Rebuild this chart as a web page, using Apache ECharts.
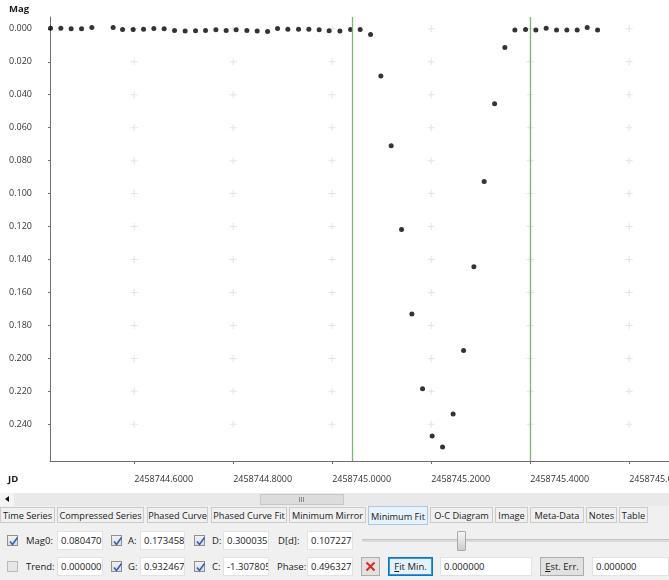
<!DOCTYPE html>
<html>
<head>
<meta charset="utf-8">
<script src="https://cdn.jsdelivr.net/npm/echarts@6/dist/echarts.min.js"></script>
<style>
  html, body { margin: 0; padding: 0; }
  body {
    width: 669px; height: 580px; overflow: hidden; position: relative;
    background: #f0f0f0;
    font-family: "Open Sans", "Noto Sans", sans-serif; font-size: 9.5px; color: #1a1a1a;
  }
  #chart { position: absolute; left: 0; top: 0; width: 800px; height: 493px; background: #fff; }
  .a { position: absolute; box-sizing: border-box; white-space: nowrap; }
  #hscroll { left: 0; top: 493px; width: 669px; height: 13px; background: #e9e9e9; }
  #hleft { left: 0; top: 493px; width: 14px; height: 13px; background: #f4f4f4; }
  #hleft:after { content: ""; position: absolute; left: 5px; top: 3px; border-style: solid;
    border-width: 3.5px 4px 3.5px 0; border-color: transparent #111 transparent transparent; }
  #hthumb { left: 260px; top: 494px; width: 84px; height: 11px; background: #dcdcdc; border: 1px solid #c8c8c8; }
  .grip { top: 497px; width: 1px; height: 5px; background: #8a8a8a; }
  .tab { top: 507px; height: 16px; line-height: 15px; text-align: center; background: #f0f0f0;
    border: 1px solid #cacaca; color: #1a1a1a; font-size: 9.2px; }
  .tab.sel { top: 506px; height: 19px; line-height: 19px; background: #e6f3fb; border-color: #a9c9de; }
  .lbl { line-height: 19px; height: 19px; }
  .tb { height: 19px; line-height: 17px; background: #fff; border: 1px solid #e2e2e2; padding-left: 3px; overflow: hidden; }
  .cb { width: 11px; height: 11px; border: 1px solid #8e8f8f; background: linear-gradient(#f2f2f2, #dcdcdc); }
  .cb svg { position: absolute; left: 0; top: 0; }
  .cb.off { background: #e6e6e6; border-color: #b9b9b9; }
  .btn { height: 19px; line-height: 17px; text-align: center; background: #e1e1e1; border: 1px solid #adadad; }
  .btn.def { background: #e5f1fb; border: 1px solid #0078d7; box-shadow: inset 0 0 0 1px #3b95dc; }
  #track { left: 362px; top: 539px; width: 307px; height: 3px; background: #dadada; border-top: 1px solid #c4c4c4; }
  #knob { left: 457px; top: 531px; width: 9px; height: 20px; background: linear-gradient(#f6f6f6, #cdcdcd);
    border: 1px solid #a9a9a9; border-radius: 1px; }
</style>
</head>
<body>
<div id="chart"></div>

<!-- horizontal scrollbar under the plot -->
<div id="hscroll" class="a"></div>
<div id="hleft" class="a"></div>
<div id="hthumb" class="a"></div>
<div class="a grip" style="left:299px"></div>
<div class="a grip" style="left:301px"></div>
<div class="a grip" style="left:303px"></div>

<!-- view tabs -->
<div id="tabs"></div>

<!-- fit parameter rows -->
<div class="a cb" style="left:7px;top:535px"><svg width="11" height="11"><path d="M2 5.5 L4.5 8.5 L9.5 1.5" fill="none" stroke="#2f62b8" stroke-width="1.6"/></svg></div>
<div class="a lbl" style="left:26px;top:531px">Mag0:</div>
<div class="a tb" style="left:57px;top:531px;width:46px">0.080470</div>
<div class="a cb" style="left:111px;top:535px"><svg width="11" height="11"><path d="M2 5.5 L4.5 8.5 L9.5 1.5" fill="none" stroke="#2f62b8" stroke-width="1.6"/></svg></div>
<div class="a lbl" style="left:128px;top:531px">A:</div>
<div class="a tb" style="left:140px;top:531px;width:45px">0.173458</div>
<div class="a cb" style="left:194px;top:535px"><svg width="11" height="11"><path d="M2 5.5 L4.5 8.5 L9.5 1.5" fill="none" stroke="#2f62b8" stroke-width="1.6"/></svg></div>
<div class="a lbl" style="left:212px;top:531px">D:</div>
<div class="a tb" style="left:223px;top:531px;width:46px">0.300035</div>
<div class="a lbl" style="left:278px;top:531px">D[d]:</div>
<div class="a tb" style="left:307px;top:531px;width:46px">0.107227</div>
<div id="track" class="a"></div>
<div id="knob" class="a"></div>

<div class="a cb off" style="left:7px;top:561px"></div>
<div class="a lbl" style="left:26px;top:557px">Trend:</div>
<div class="a tb" style="left:57px;top:557px;width:46px">0.000000</div>
<div class="a cb" style="left:111px;top:561px"><svg width="11" height="11"><path d="M2 5.5 L4.5 8.5 L9.5 1.5" fill="none" stroke="#2f62b8" stroke-width="1.6"/></svg></div>
<div class="a lbl" style="left:128px;top:557px">G:</div>
<div class="a tb" style="left:140px;top:557px;width:45px">0.932467</div>
<div class="a cb" style="left:194px;top:561px"><svg width="11" height="11"><path d="M2 5.5 L4.5 8.5 L9.5 1.5" fill="none" stroke="#2f62b8" stroke-width="1.6"/></svg></div>
<div class="a lbl" style="left:212px;top:557px">C:</div>
<div class="a tb" style="left:223px;top:557px;width:46px">-1.307805</div>
<div class="a lbl" style="left:277px;top:557px">Phase:</div>
<div class="a tb" style="left:307px;top:557px;width:46px">0.496327</div>
<div class="a btn" style="left:361px;top:557px;width:19px"><svg width="17" height="17" style="position:absolute;left:0;top:0"><path d="M4.5 4.5 L12.5 12.5 M12.5 4.5 L4.5 12.5" stroke="#d62a22" stroke-width="2"/></svg></div>
<div class="a btn def" style="left:388px;top:557px;width:45px"><u>F</u>it Min.</div>
<div class="a tb" style="left:440px;top:557px;width:92px">0.000000</div>
<div class="a btn" style="left:540px;top:557px;width:44px"><u>E</u>st. Err.</div>
<div class="a tb" style="left:592px;top:557px;width:77px">0.000000</div>

<script>
// Tab strip of the light-curve viewer
const tabNames = ["Time Series", "Compressed Series", "Phased Curve", "Phased Curve Fit", "Minimum Mirror",
  "Minimum Fit", "O-C Diagram", "Image", "Meta-Data", "Notes", "Table"];
const tabEdges = [[0, 55], [57, 144], [147, 208], [211, 287], [289, 366], [368, 428], [430, 493],
  [495, 528], [530, 584], [586, 617], [619, 648]];
const activeTab = "Minimum Fit";
const tabsEl = document.getElementById("tabs");
tabNames.forEach((name, i) => {
  const d = document.createElement("div");
  d.className = "a tab" + (name === activeTab ? " sel" : "");
  d.style.left = tabEdges[i][0] + "px";
  d.style.width = (tabEdges[i][1] - tabEdges[i][0]) + "px";
  d.textContent = name;
  tabsEl.appendChild(d);
});

// Observations: Julian date and magnitude difference
const jd = [
  2458744.4311, 2458744.4519, 2458744.4727, 2458744.4937, 2458744.5145,
  2458744.5576, 2458744.5766, 2458744.5980, 2458744.6190, 2458744.6398,
  2458744.6606, 2458744.6816, 2458744.7030, 2458744.7240, 2458744.7442,
  2458744.7651, 2458744.7859, 2458744.8061, 2458744.8277, 2458744.8485,
  2458744.8695, 2458744.8897, 2458744.9105, 2458744.9321, 2458744.9529,
  2458744.9737, 2458744.9939, 2458745.0156, 2458745.0372, 2458745.0566,
  2458745.0776, 2458745.0984, 2458745.1192, 2458745.1402, 2458745.1610,
  2458745.1826, 2458745.2020, 2458745.2230, 2458745.2444, 2458745.2655,
  2458745.2863, 2458745.3071, 2458745.3281, 2458745.3489, 2458745.3691,
  2458745.3907, 2458745.4115, 2458745.4323, 2458745.4533, 2458745.4741,
  2458745.4949, 2458745.5152, 2458745.5362
];
const mag = [
  -0.0004, -0.0004, 0.0000, 0.0000, -0.0008,
  -0.0008, 0.0004, 0.0004, 0.0002, -0.0002,
  0.0000, 0.0010, 0.0014, 0.0012, 0.0010,
  0.0006, 0.0010, 0.0006, 0.0010, 0.0014,
  0.0016, -0.0002, 0.0002, 0.0002, 0.0002,
  0.0006, 0.0012, 0.0014, 0.0004, 0.0004,
  0.0034, 0.0287, 0.0710, 0.1218, 0.1731,
  0.2184, 0.2471, 0.2538, 0.2338, 0.1952,
  0.1444, 0.0927, 0.0455, 0.0113, 0.0008,
  0.0004, 0.0008, -0.0004, 0.0008, 0.0008,
  0.0008, -0.0008, 0.0008
];

// Boundaries of the minimum-fit window
const fitWindow = [2458745.0424, 2458745.3950];

// Axis ticks
const xTicks = [2458744.6, 2458744.8, 2458745.0, 2458745.2, 2458745.4, 2458745.6, 2458745.8];
const yTicks = [0.00, 0.02, 0.04, 0.06, 0.08, 0.10, 0.12, 0.14, 0.16, 0.18, 0.20, 0.22, 0.24];

// Visible axis ranges
const xMin = 2458744.4300, xMax = 2458745.8441;
const yMin = -0.00716, yMax = 0.26226;

const points = jd.map((t, i) => [t, mag[i]]);
const crosses = [];
xTicks.forEach(x => yTicks.forEach(y => crosses.push([x, y])));

const axisColor = "#6f6f6f";
const font = '"Open Sans", "Noto Sans", sans-serif';

const chart = echarts.init(document.getElementById("chart"), null, { renderer: "canvas" });
chart.setOption({
  animation: false,
  textStyle: { fontFamily: font },
  grid: { left: 50, top: 17, width: 700, height: 444 },
  xAxis: {
    type: "value", min: xMin, max: xMax,
    axisLine: { show: true, onZero: false, lineStyle: { color: axisColor, width: 1 } },
    axisTick: { show: true, customValues: xTicks, length: 3, lineStyle: { color: axisColor } },
    axisLabel: { customValues: xTicks, formatter: v => v.toFixed(4), align: "left", margin: 14,
      color: "#333", fontSize: 9, fontFamily: font },
    splitLine: { show: false }
  },
  yAxis: {
    type: "value", inverse: true, min: yMin, max: yMax,
    axisLine: { show: true, onZero: false, lineStyle: { color: axisColor, width: 1 } },
    axisTick: { show: true, customValues: yTicks, length: 2, lineStyle: { color: axisColor } },
    axisLabel: { customValues: yTicks, formatter: v => v.toFixed(3), margin: 18,
      color: "#333", fontSize: 9, fontFamily: font },
    splitLine: { show: false }
  },
  graphic: [
    { type: "text", left: 9, top: 4, style: { text: "Mag", font: 'bold 9.5px "Open Sans"', fill: "#1a1a1a" } },
    { type: "text", left: 8, top: 474, style: { text: "JD", font: 'bold 9.5px "Open Sans"', fill: "#1a1a1a" } }
  ],
  series: [
    {
      name: "grid marks", type: "scatter", data: crosses, silent: true, z: 1,
      symbol: "path://M0,3H7V4H0Z M3,0H4V7H3Z", symbolSize: 7,
      itemStyle: { color: "#dcdcdc" }
    },
    {
      name: "Mag", type: "scatter", data: points, z: 3,
      symbol: "circle", symbolSize: 5,
      itemStyle: { color: "#000" },
      markLine: {
        silent: true, symbol: ["none", "none"], label: { show: false },
        lineStyle: { color: "#6cbf64", width: 1.3, type: "solid" },
        emphasis: { disabled: true },
        data: fitWindow.map(v => ({ xAxis: v }))
      }
    }
  ]
});
</script>
</body>
</html>
